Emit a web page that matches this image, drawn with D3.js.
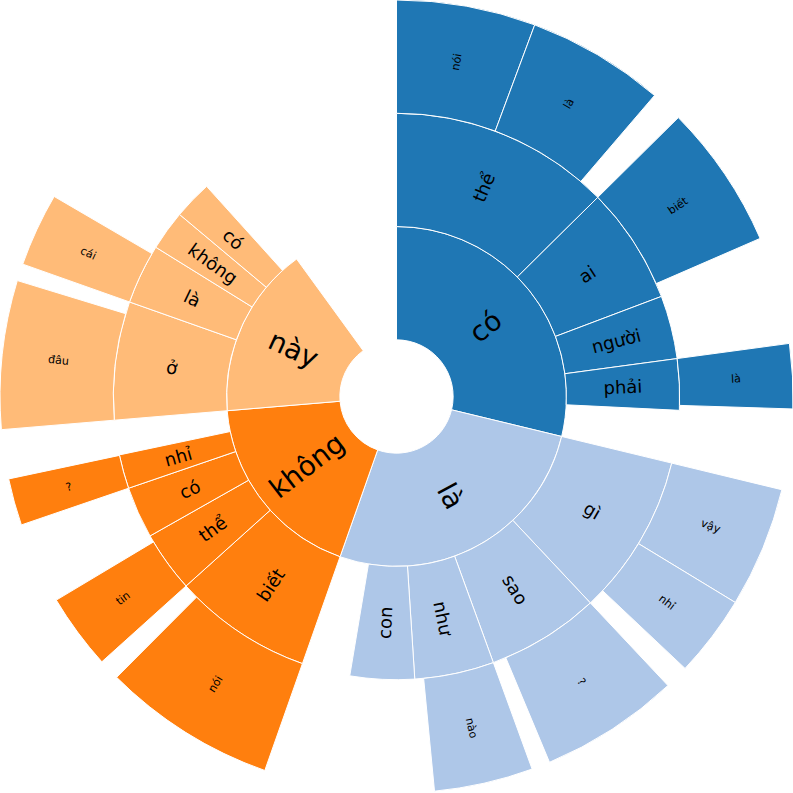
<!DOCTYPE html>
<html>
<head>
<meta charset="utf-8">
<script src="https://cdn.jsdelivr.net/npm/d3@7"></script>
<style>
  html, body { margin: 0; padding: 0; background: white; }
  text { font-family: "DejaVu Sans", sans-serif; fill: black; }
</style>
</head>
<body>
<div id="chart"></div>
<script>
// words and their counts (angle share of the full circle, total = 360)
var total = 360

var level1 = [
   ["có", 103.6],
   ["là", 95.8],
   ["không", 65.8],
   ["này", 58.8]
]

// [parent, word, value]
var level2 = [
   ["có", "thể", 45.3], ["có", "ai", 24], ["có", "người", 13], ["có", "phải", 10.5],
   ["là", "gì", 33.2], ["là", "sao", 23.2], ["là", "như", 16.3], ["là", "con", 13.2],
   ["không", "biết", 28.6], ["không", "thể", 12.5], ["không", "có", 10.6], ["không", "nhỉ", 7],
   ["này", "ở", 24.3], ["này", "là", 12.3], ["này", "không", 8.2], ["này", "có", 7.9]
]

// [parent path, word, value]
var level3 = [
   ["có/thể", "nói", 20.4], ["có/thể", "là", 20.2],
   ["có/ai", "biết", 21.2],
   ["có/phải", "là", 9.5],
   ["là/gì", "vậy", 17.7], ["là/gì", "nhỉ", 12],
   ["là/sao", "?", 20.5],
   ["là/như", "nào", 14.5],
   ["không/biết", "nói", 25.5],
   ["không/thể", "tin", 11.1],
   ["không/nhỉ", "?", 6.9],
   ["này/ở", "đâu", 21.8],
   ["này/là", "cái", 10.8]
]

var colors = ["#1f77b4", "#aec7e8", "#ff7f0e", "#ffbb78"]
var fontSizes = [27.8, 18, 11.1]

var svgWidth  = 793
var svgHeight = 793
var cx = svgWidth / 2
var cy = svgHeight / 2
var band = (svgWidth / 2) / 3.5

var angle = d3.scaleLinear().domain([0, total]).range([0, 2 * Math.PI])
var radius = d3.scaleLinear().domain([0, 1]).range([band * 0.5, band * 1.5])

var color = d3.scaleOrdinal()
.domain(level1.map(function(d){ return d[0] }))
.range(colors)

// build flat list of segments with start/end values
var segments = []
var starts = {}
var acc = 0
level1.forEach(function(d){
   segments.push({ depth: 0, path: d[0], name: d[0], top: d[0], v0: acc, v1: acc + d[1] })
   starts[d[0]] = acc
   acc += d[1]
})
function addLevel(rows, depth) {
   var cursor = {}
   rows.forEach(function(d){
      var parent = d[0]
      if (cursor[parent] === undefined) cursor[parent] = starts[parent]
      var path = parent + "/" + d[1]
      var v0 = cursor[parent]
      segments.push({ depth: depth, path: path, name: d[1], top: parent.split("/")[0], v0: v0, v1: v0 + d[2] })
      starts[path] = v0
      cursor[parent] = v0 + d[2]
   })
}
addLevel(level2, 1)
addLevel(level3, 2)

var arc = d3.arc()
.startAngle(function(d){ return angle(d.v0) })
.endAngle(function(d){ return angle(d.v1) })
.innerRadius(function(d){ return radius(d.depth) })
.outerRadius(function(d){ return radius(d.depth + 1) })

var svg = d3.select("#chart")
.append("svg")
.attr("width", svgWidth)
.attr("height", svgHeight)

var g = svg.append("g")
.attr("transform", "translate(" + cx + "," + cy + ")")

g.selectAll("path")
.data(segments)
.enter()
.append("path")
.attr("d", arc)
.attr("fill", function(d){ return color(d.top) })
.attr("stroke", "white")
.attr("stroke-width", 1)

g.selectAll("text")
.data(segments)
.enter()
.append("text")
.attr("transform", function(d){
   var c = arc.centroid(d)
   var a = (d.v0 + d.v1) / 2 / total * 360
   // radial labels, flipped on the left half so they stay readable
   var rot = a < 180 ? a - 90 : a - 270
   return "translate(" + c[0] + "," + c[1] + ") rotate(" + rot + ")"
})
.attr("text-anchor", "middle")
.attr("dominant-baseline", "central")
.style("font-size", function(d){ return fontSizes[d.depth] + "px" })
.text(function(d){ return d.name })
</script>
</body>
</html>
